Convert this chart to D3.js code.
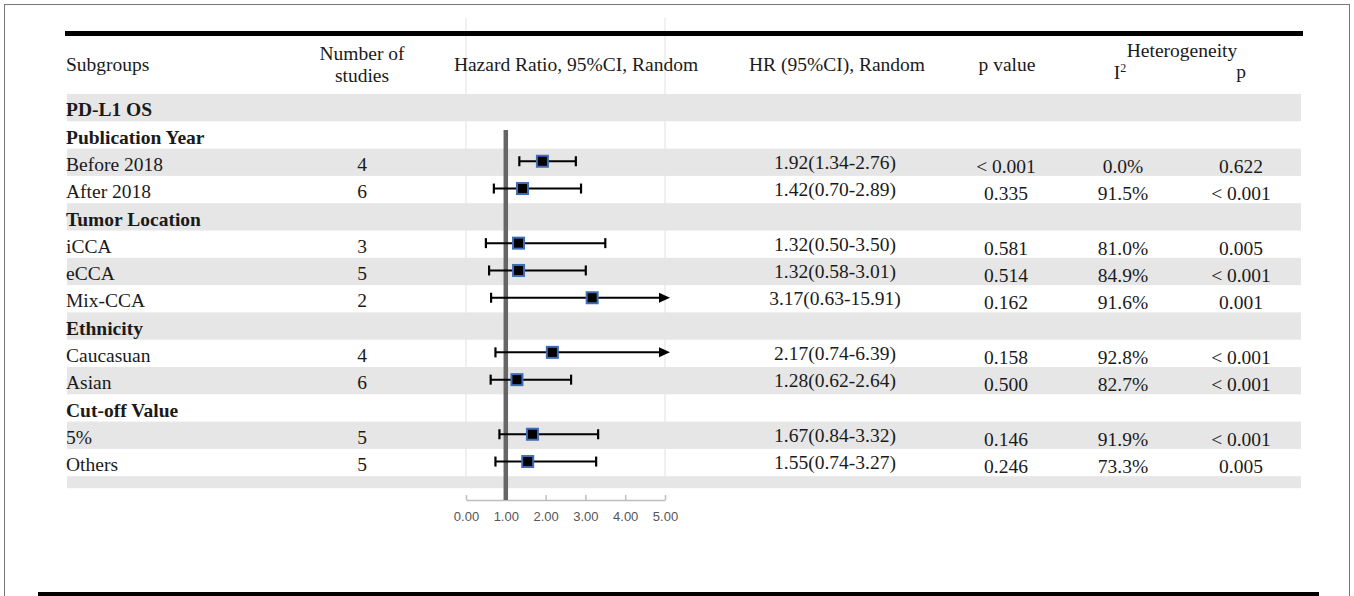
<!DOCTYPE html>
<html>
<head>
<meta charset="utf-8">
<script src="https://cdn.jsdelivr.net/npm/d3@7"></script>
<style>
  body { margin: 0; background: #fff; }
  text { font-family: "Liberation Serif", "Times New Roman", serif; fill: #1a1a1a; }
</style>
</head>
<body>
<div id="container"></div>
<script>
const width = 1354;
const height = 596;

// table rows (null = section header row)
const labels = ["PD-L1 OS", "Publication Year", "Before 2018", "After 2018", "Tumor Location",
    "iCCA", "eCCA", "Mix-CCA", "Ethnicity", "Caucasuan", "Asian", "Cut-off  Value", "5%", "Others"];
const studies = [null, null, 4, 6, null, 3, 5, 2, null, 4, 6, null, 5, 5];
const hr = [null, null, 1.92, 1.42, null, 1.32, 1.32, 3.17, null, 2.17, 1.28, null, 1.67, 1.55];
const lower = [null, null, 1.34, 0.70, null, 0.50, 0.58, 0.63, null, 0.74, 0.62, null, 0.84, 0.74];
const upper = [null, null, 2.76, 2.89, null, 3.50, 3.01, 15.91, null, 6.39, 2.64, null, 3.32, 3.27];
const pValues = [null, null, "< 0.001", "0.335", null, "0.581", "0.514", "0.162", null, "0.158", "0.500", null, "0.146", "0.246"];
const i2 = [null, null, "0.0%", "91.5%", null, "81.0%", "84.9%", "91.6%", null, "92.8%", "82.7%", null, "91.9%", "73.3%"];
const hetP = [null, null, "0.622", "< 0.001", null, "0.005", "< 0.001", "0.001", null, "< 0.001", "< 0.001", null, "< 0.001", "0.005"];
const axisTicks = [0, 1, 2, 3, 4, 5];

const rows = labels.map((label, i) => ({
    label,
    n: studies[i],
    hr: hr[i],
    lo: lower[i],
    hi: upper[i],
    p: pValues[i],
    i2: i2[i],
    hp: hetP[i],
    header: studies[i] === null
}));

const rowTop = 94;
const rowH = 27.3;
const tableLeft = 67;
const tableRight = 1301;
const fontSize = "19.5px";

const svg = d3.select("#container").append("svg")
    .attr("width", width)
    .attr("height", height);

// outer frame
svg.append("rect")
    .attr("x", 4.5).attr("y", 4.5)
    .attr("width", 1345).attr("height", 620)
    .attr("fill", "none").attr("stroke", "#777");

const x = d3.scaleLinear().domain([0, 5]).range([466, 665]);
const xMax = 5;

// faint plot edges
svg.selectAll("line.edge")
    .data([0, 5])
    .enter().append("line")
    .attr("class", "edge")
    .attr("x1", d => x(d)).attr("x2", d => x(d))
    .attr("y1", 18).attr("y2", 488)
    .attr("stroke", "#f0f0f0").attr("stroke-width", 2);

// banded rows
const bandCount = rows.length + 1;
svg.selectAll("rect.band")
    .data(d3.range(bandCount).filter(i => i % 2 === 0))
    .enter().append("rect")
    .attr("class", "band")
    .attr("x", tableLeft)
    .attr("y", i => rowTop + i * rowH)
    .attr("width", tableRight - tableLeft)
    .attr("height", i => i === bandCount - 1 ? 12 : rowH)
    .attr("fill", "#e6e6e6");

// top and bottom rules
svg.append("rect").attr("x", 65).attr("y", 31).attr("width", 1238).attr("height", 5).attr("fill", "#000");
svg.append("rect").attr("x", 38).attr("y", 592).attr("width", 1281).attr("height", 6).attr("fill", "#000");

// header
const head = svg.append("g").style("font-size", fontSize);
head.append("text").attr("x", 66).attr("y", 71).text("Subgroups");
head.append("text").attr("x", 362).attr("y", 60).attr("text-anchor", "middle").text("Number of");
head.append("text").attr("x", 362).attr("y", 82).attr("text-anchor", "middle").text("studies");
head.append("text").attr("x", 576).attr("y", 71).attr("text-anchor", "middle").text("Hazard Ratio, 95%CI, Random");
head.append("text").attr("x", 837).attr("y", 71).attr("text-anchor", "middle").text("HR (95%CI), Random");
head.append("text").attr("x", 1007).attr("y", 71).attr("text-anchor", "middle").text("p value");
head.append("text").attr("x", 1182).attr("y", 57).attr("text-anchor", "middle").text("Heterogeneity");
const iHead = head.append("text").attr("x", 1120).attr("y", 79).attr("text-anchor", "middle");
iHead.append("tspan").text("I");
iHead.append("tspan").attr("dy", -7).style("font-size", "12px").text("2");
head.append("text").attr("x", 1241).attr("y", 78).attr("text-anchor", "middle").text("p");

const bottomOf = i => rowTop + (i + 1) * rowH;
const midOf = i => rowTop + (i + 0.5) * rowH;

// left text columns
const rowG = svg.selectAll("g.row")
    .data(rows)
    .enter().append("g")
    .attr("class", "row")
    .style("font-size", fontSize);

rowG.append("text")
    .attr("x", 66)
    .attr("y", (d, i) => bottomOf(i) - 5)
    .style("font-weight", d => d.header ? "bold" : "normal")
    .text(d => d.label);

const items = rowG.filter(d => !d.header);

items.append("text")
    .attr("x", 362)
    .attr("y", d => bottomOf(rows.indexOf(d)) - 5)
    .attr("text-anchor", "middle")
    .text(d => d.n);

items.append("text")
    .attr("x", 835)
    .attr("y", d => bottomOf(rows.indexOf(d)) - 7)
    .attr("text-anchor", "middle")
    .text(d => `${d.hr.toFixed(2)}(${d.lo.toFixed(2)}-${d.hi.toFixed(2)})`);

const rightCols = [
    { key: "p", cx: 1006 },
    { key: "i2", cx: 1123 },
    { key: "hp", cx: 1241 }
];
rightCols.forEach(c => {
    items.append("text")
        .attr("x", c.cx)
        .attr("y", d => bottomOf(rows.indexOf(d)) - 3)
        .attr("text-anchor", "middle")
        .text(d => d[c.key]);
});

// axis
const axis = d3.axisBottom(x)
    .tickValues(axisTicks)
    .tickFormat(d3.format(".2f"))
    .tickSizeInner(-5)
    .tickSizeOuter(0)
    .tickPadding(12);

const axisG = svg.append("g")
    .attr("transform", "translate(0,500)")
    .call(axis);
axisG.select(".domain").attr("stroke", "#bdbdbd").attr("stroke-width", 1.5);
axisG.selectAll(".tick line").attr("stroke", "#bdbdbd").attr("stroke-width", 1.5);
axisG.selectAll(".tick text")
    .style("font-family", "'Liberation Sans', Arial, sans-serif")
    .style("font-size", "13px")
    .style("fill", "#555");

// reference line at HR = 1
svg.append("line")
    .attr("x1", x(1)).attr("x2", x(1))
    .attr("y1", 130).attr("y2", 500)
    .attr("stroke", "#666").attr("stroke-width", 4.5);

// CI lines
const ci = svg.append("g");
items.each(function (d) {
    const i = rows.indexOf(d);
    const y = midOf(i) - 1;
    const clipped = d.hi > xMax;
    const xEnd = clipped ? x(xMax) - 4 : x(d.hi);
    ci.append("line")
        .attr("x1", x(d.lo)).attr("x2", xEnd)
        .attr("y1", y).attr("y2", y)
        .attr("stroke", "#000").attr("stroke-width", 2);
    ci.append("line")
        .attr("x1", x(d.lo)).attr("x2", x(d.lo))
        .attr("y1", y - 5).attr("y2", y + 5)
        .attr("stroke", "#000").attr("stroke-width", 2.2);
    if (clipped) {
        const tip = x(xMax) + 5;
        ci.append("path")
            .attr("d", `M${tip},${y} L${tip - 11},${y - 5} L${tip - 11},${y + 5} Z`)
            .attr("fill", "#000");
    } else {
        ci.append("line")
            .attr("x1", x(d.hi)).attr("x2", x(d.hi))
            .attr("y1", y - 5).attr("y2", y + 5)
            .attr("stroke", "#000").attr("stroke-width", 2.2);
    }
    ci.append("rect")
        .attr("x", x(d.hr) - 5.5).attr("y", y - 5.5)
        .attr("width", 11).attr("height", 11)
        .attr("fill", "#000")
        .attr("stroke", "#3f6cb8").attr("stroke-width", 2);
});
</script>
</body>
</html>
